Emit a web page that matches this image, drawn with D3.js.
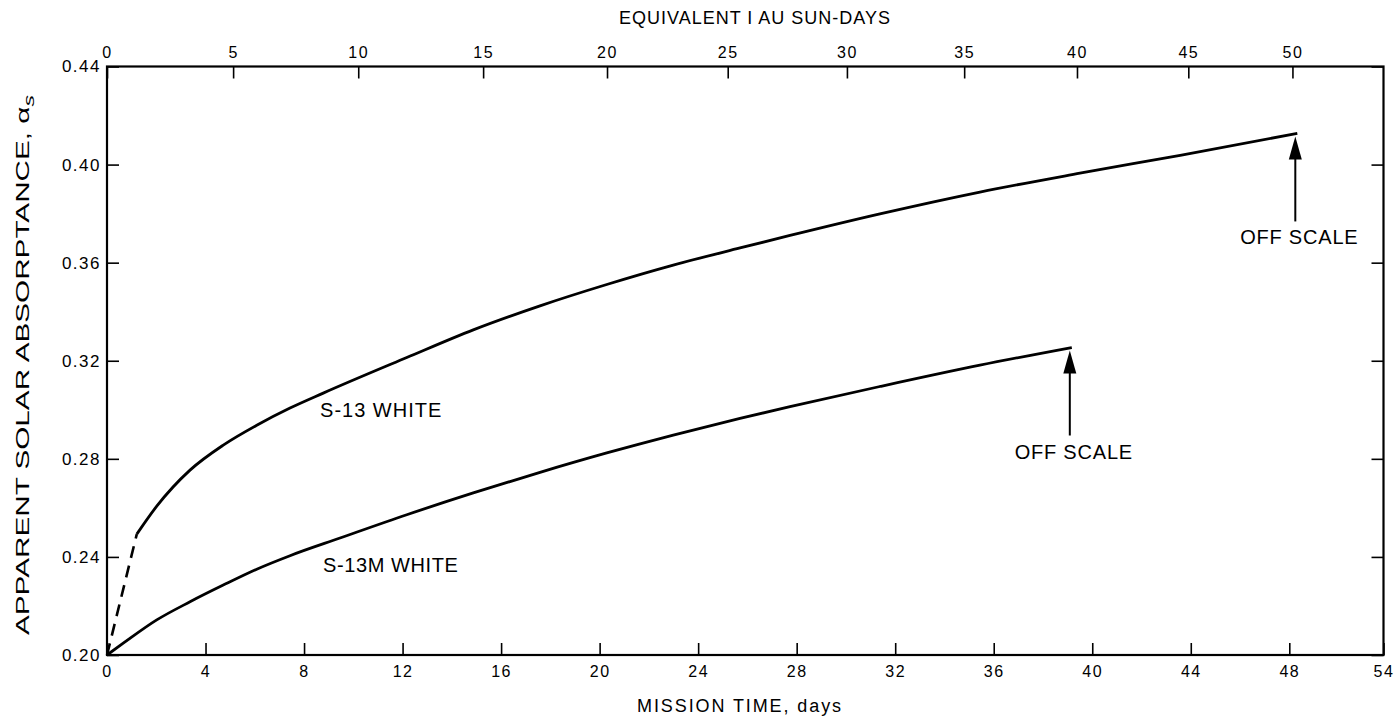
<!DOCTYPE html>
<html>
<head>
<meta charset="utf-8">
<script src="https://cdn.jsdelivr.net/npm/d3@7"></script>
<style>
  body { margin: 0; background: #fff; }
  text { font-family: "Liberation Sans", Arial, sans-serif; fill: #000; }
</style>
</head>
<body>
<div id="chart"></div>
<script>
// mission time axis (bottom). the last label sits on the frame edge
var missionTicks = [0, 4, 8, 12, 16, 20, 24, 28, 32, 36, 40, 44, 48, 54]
// equivalent 1 AU sun-days (top) and the mission day each one falls on
var sunDayTicks = [0, 5, 10, 15, 20, 25, 30, 35, 40, 45, 50]
var sunDayAtMission = [0, 5.12, 10.2, 15.27, 20.3, 25.2, 30.04, 34.8, 39.38, 43.9, 48.2]
var absTicks = [0.20, 0.24, 0.28, 0.32, 0.36, 0.40, 0.44]

// S-13 white: dashed start, then measured curve
var s13DashDay = [0, 1.21]
var s13DashAbs = [0.200, 0.2493]
var s13Day = [1.21, 2.02, 3.37, 4.72, 6.08, 7.43, 8.78, 12.17, 14.87, 17.58, 20.29, 22.99, 25.70, 27.73, 31.38, 35.44, 39.50, 43.57, 48.51]
var s13Abs = [0.2493, 0.2607, 0.2754, 0.2856, 0.2937, 0.3007, 0.3068, 0.3213, 0.3326, 0.3424, 0.3511, 0.3590, 0.3660, 0.3711, 0.3799, 0.3888, 0.3965, 0.4038, 0.4127]

// S-13M white
var s13mDay = [0, 0.66, 2.02, 3.37, 4.72, 6.08, 7.43, 9.46, 12.17, 14.87, 17.58, 20.29, 22.99, 25.70, 27.73, 31.38, 35.44, 39.17]
var s13mAbs = [0.200, 0.2048, 0.2143, 0.2217, 0.2285, 0.2350, 0.2405, 0.2477, 0.2572, 0.2661, 0.2745, 0.2824, 0.2897, 0.2965, 0.3013, 0.3095, 0.3182, 0.3254]

var W = 1400, H = 719
var plot_l = 107, plot_r = 1383.5, plot_t = 66.5, plot_b = 655
var tick_len = 12

var svg = d3.select("#chart").append("svg")
    .attr("width", W)
    .attr("height", H)

var px_per_day = (1289.3 - plot_l) / 48
var x = d3.scaleLinear()
    .domain([0, 48, 54])
    .range([plot_l, plot_l + 48 * px_per_day, plot_r])
var xTop = d3.scaleLinear()
    .domain(sunDayTicks)
    .range(sunDayAtMission.map(function(d){ return x(d) }))
var y = d3.scaleLinear()
    .domain([0.20, 0.44])
    .range([plot_b, plot_t])

// axes, ticks pointing inward
var gb = svg.append("g")
    .attr("transform", "translate(0," + plot_b + ")")
    .call(d3.axisBottom(x).tickValues(missionTicks).tickSize(-tick_len).tickPadding(11))
var gt = svg.append("g")
    .attr("transform", "translate(0," + plot_t + ")")
    .call(d3.axisTop(xTop).tickValues(sunDayTicks).tickSize(-tick_len).tickPadding(9))
var gl = svg.append("g")
    .attr("transform", "translate(" + plot_l + ",0)")
    .call(d3.axisLeft(y).tickValues(absTicks).tickSize(-tick_len).tickPadding(6).tickFormat(d3.format(".2f")))
var gr = svg.append("g")
    .attr("transform", "translate(" + plot_r + ",0)")
    .call(d3.axisRight(y).tickValues(absTicks).tickSize(-tick_len).tickFormat(""))

;[gb, gt, gl, gr].forEach(function(g){
    g.select(".domain").remove()
    g.selectAll(".tick line").attr("stroke", "#000").attr("stroke-width", 1.6)
    g.selectAll(".tick text")
        .style("font-size", "16px")
        .style("letter-spacing", "1.5px")
        .attr("fill", "#000")
})
gl.selectAll(".tick text").style("font-size", "17px")

// frame
svg.append("rect")
    .attr("x", plot_l)
    .attr("y", plot_t)
    .attr("width", plot_r - plot_l)
    .attr("height", plot_b - plot_t)
    .attr("fill", "none")
    .attr("stroke", "#000")
    .attr("stroke-width", 2.2)

// curves
var line = d3.line()
    .x(function(d){ return x(d[0]) })
    .y(function(d){ return y(d[1]) })
    .curve(d3.curveMonotoneX)

svg.append("path")
    .datum(d3.zip(s13DashDay, s13DashAbs))
    .attr("d", line)
    .attr("fill", "none")
    .attr("stroke", "#000")
    .attr("stroke-width", 2.6)
    .attr("stroke-dasharray", "12,8")
svg.append("path")
    .datum(d3.zip(s13Day, s13Abs))
    .attr("d", line)
    .attr("fill", "none")
    .attr("stroke", "#000")
    .attr("stroke-width", 2.8)
svg.append("path")
    .datum(d3.zip(s13mDay, s13mAbs))
    .attr("d", line)
    .attr("fill", "none")
    .attr("stroke", "#000")
    .attr("stroke-width", 2.8)

// curve labels
svg.append("text")
    .text("S-13 WHITE")
    .attr("x", x(8.65))
    .attr("y", y(0.297))
    .style("font-size", "20px")
    .style("letter-spacing", "1px")
svg.append("text")
    .text("S-13M WHITE")
    .attr("x", x(8.77))
    .attr("y", y(0.2338))
    .style("font-size", "20px")
    .style("letter-spacing", "0.6px")

// off scale arrows at the end of each curve
function off_scale(day, val){
    var ax = x(day) - 2
    var tip = y(val) + 3
    var head_len = 23, head_w = 6.5, shaft = 85
    svg.append("line")
        .attr("x1", ax).attr("x2", ax)
        .attr("y1", tip + head_len - 2)
        .attr("y2", tip + shaft)
        .attr("stroke", "#000")
        .attr("stroke-width", 2)
    svg.append("path")
        .attr("d", "M" + ax + "," + tip + "L" + (ax - head_w) + "," + (tip + head_len) + "L" + (ax + head_w) + "," + (tip + head_len) + "Z")
        .attr("fill", "#000")
    svg.append("text")
        .text("OFF SCALE")
        .attr("x", ax + 4)
        .attr("y", tip + shaft + 23)
        .attr("text-anchor", "middle")
        .style("font-size", "20px")
        .style("letter-spacing", "0.8px")
}
off_scale(s13Day[s13Day.length - 1], s13Abs[s13Abs.length - 1])
off_scale(s13mDay[s13mDay.length - 1], s13mAbs[s13mAbs.length - 1])

// axis titles
svg.append("text")
    .text("EQUIVALENT I AU SUN-DAYS")
    .attr("x", 755)
    .attr("y", 24)
    .attr("text-anchor", "middle")
    .style("font-size", "18px")
    .style("letter-spacing", "1px")
svg.append("text")
    .text("MISSION TIME,  days")
    .attr("x", 740)
    .attr("y", 712)
    .attr("text-anchor", "middle")
    .style("font-size", "18px")
    .style("letter-spacing", "1.9px")
var yt = svg.append("text")
    .attr("transform", "translate(29,365) rotate(-90)")
    .attr("text-anchor", "middle")
    .attr("textLength", 540)
    .attr("lengthAdjust", "spacingAndGlyphs")
    .style("font-size", "18px")
yt.append("tspan").text("APPARENT SOLAR ABSORPTANCE,  \u03b1")
yt.append("tspan").text("s").attr("dy", 5).style("font-size", "14px").style("font-style", "italic")
</script>
</body>
</html>
